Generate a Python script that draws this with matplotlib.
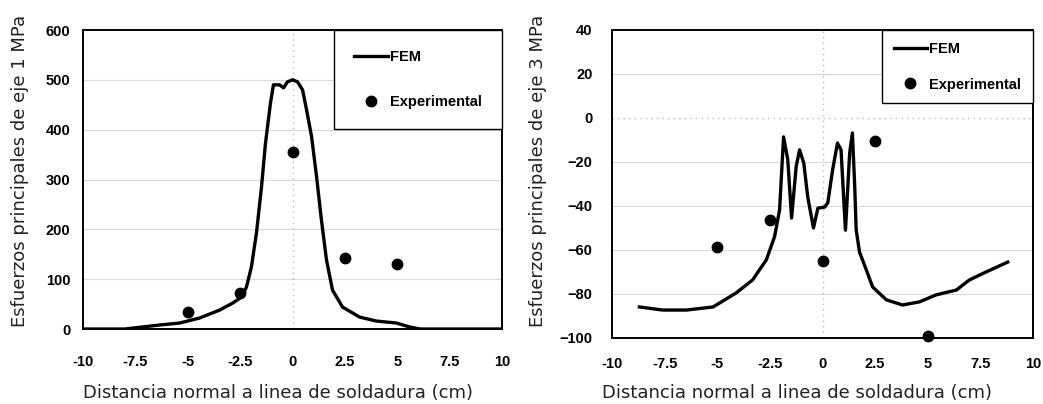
import matplotlib
matplotlib.use('Agg')
import matplotlib.pyplot as plt

# datos eje 1 (FEM y experimental)
x_fem1 = [-10, -8, -7.6, -6.35, -5.39, -4.44, -3.48, -2.86, -2.43, -2.2, -1.96, -1.72, -1.48,
          -1.29, -1.05, -0.91, -0.62, -0.43, -0.24, 0, 0.24, 0.48, 0.67, 0.91, 1.15, 1.38,
          1.62, 1.91, 2.39, 3.2, 4.0, 4.96, 5.6, 6.1, 7, 10]
y_fem1 = [0, 0, 2, 8, 12, 22, 38, 52, 64, 84, 125, 193, 285,
          373, 454, 490, 490, 484, 496, 500, 496, 480, 440, 386, 305, 219,
          139, 78, 44, 24, 16, 12, 4, 0, 0, 0]
x_exp1 = [-5, -2.5, 0, 2.5, 5]
y_exp1 = [34, 72, 356, 143, 130]

# datos eje 3
x_fem3 = [-8.7, -7.6, -6.46, -5.2, -4.1, -3.32, -2.67, -2.28, -2.04, -1.85, -1.65, -1.47,
          -1.25, -1.09, -0.89, -0.7, -0.43, -0.22, 0.1, 0.25, 0.48, 0.71, 0.88, 1.09, 1.29,
          1.42, 1.53, 1.6, 1.76, 2.08, 2.38, 3.04, 3.8, 4.6, 5.4, 6.36, 6.98, 7.77, 8.8]
y_fem3 = [-85.9, -87.3, -87.3, -85.9, -79.5, -73.6, -64.5, -54, -41.8, -8.6, -19, -45.5,
          -22, -14.5, -20.5, -36, -50, -41, -40.5, -38.6, -23.6, -11.4, -14.5, -51, -16,
          -6.8, -31, -51, -61, -69, -76.8, -82.7, -85, -83.6, -80.4, -78.2, -73.6, -70, -65.5]
x_exp3 = [-5, -2.5, 0, 2.5, 5]
y_exp3 = [-58.8, -46.4, -65, -10.4, -99]

xticks = [-10, -7.5, -5, -2.5, 0, 2.5, 5, 7.5, 10]
xticklabels = ['-10', '-7.5', '-5', '-2.5', '0', '2.5', '5', '7.5', '10']

fuente_bold = ['Liberation Sans']

fig = plt.figure(figsize=(10.43, 4.04), dpi=100)
ax1 = fig.add_axes([0.0796, 0.1856, 0.4017, 0.7401])
ax2 = fig.add_axes([0.5868, 0.1634, 0.4036, 0.7624])


def dibujar(ax, xf, yf, xe, ye, ylim, yticks, grid_y, ylabel, pad_x, pad_y,
            ylab_pos, xlab_pos, ley_spacing, ley_pad, cero_punteado):
    for g in grid_y:
        ax.axhline(g, color='#d9d9d9', lw=0.8, zorder=0)
    if cero_punteado:
        ax.axhline(0, color='#bbbbbb', lw=1.0, ls=(0, (1, 3)), zorder=0)
    ax.axvline(0, color='#bbbbbb', lw=1.0, ls=(0, (1, 3)), zorder=0)

    ax.plot(xf, yf, color='black', lw=2.4, label='FEM', zorder=3,
            solid_joinstyle='round')
    ax.plot(xe, ye, 'o', color='black', ms=7.5, label='Experimental', zorder=4,
            clip_on=False)

    ax.set_xlim(-10, 10)
    ax.set_ylim(ylim)
    ax.set_xticks(xticks)
    ax.set_xticklabels(xticklabels)
    ax.set_yticks(yticks)
    ax.tick_params(axis='both', length=0)
    ax.tick_params(axis='x', pad=pad_x)
    ax.tick_params(axis='y', pad=pad_y)
    for t in ax.get_xticklabels() + ax.get_yticklabels():
        t.set_family(fuente_bold)
        t.set_fontweight('bold')
        t.set_fontsize(10.5)
    for s in ax.spines.values():
        s.set_linewidth(1.4)
        s.set_color('black')

    ax.set_xlabel('Distancia normal a linea de soldadura (cm)', fontsize=13,
                  family='DejaVu Sans', color='#222222', va='center')
    ax.set_ylabel(ylabel, fontsize=13, family='DejaVu Sans', color='#222222',
                  va='center')
    ax.xaxis.set_label_coords(*xlab_pos)
    ax.yaxis.set_label_coords(*ylab_pos)

    ley = ax.legend(loc='upper right', bbox_to_anchor=(1, 1), borderaxespad=0,
                    fancybox=False, framealpha=1, edgecolor='black',
                    labelspacing=ley_spacing, borderpad=ley_pad,
                    handlelength=2.3, handletextpad=0.15,
                    prop={'family': fuente_bold, 'weight': 'bold', 'size': 10.5})
    ley.get_frame().set_linewidth(1.0)
    ley.set_zorder(5)


dibujar(ax1, x_fem1, y_fem1, x_exp1, y_exp1, (0, 600),
        [0, 100, 200, 300, 400, 500, 600], [100, 200, 300, 400, 500],
        'Esfuerzos principales de eje 1 MPa', 19, 9,
        (-0.150, 0.528), (0.465, -0.214), 2.1, 1.4, False)

dibujar(ax2, x_fem3, y_fem3, x_exp3, y_exp3, (-100, 40),
        [-100, -80, -60, -40, -20, 0, 20, 40], [20, -20, -40, -60, -80],
        'Esfuerzos principales de eje 3 MPa', 14, 14,
        (-0.176, 0.542), (0.44, -0.179), 1.5, 0.8, True)

plt.savefig('out.png', dpi=100)
